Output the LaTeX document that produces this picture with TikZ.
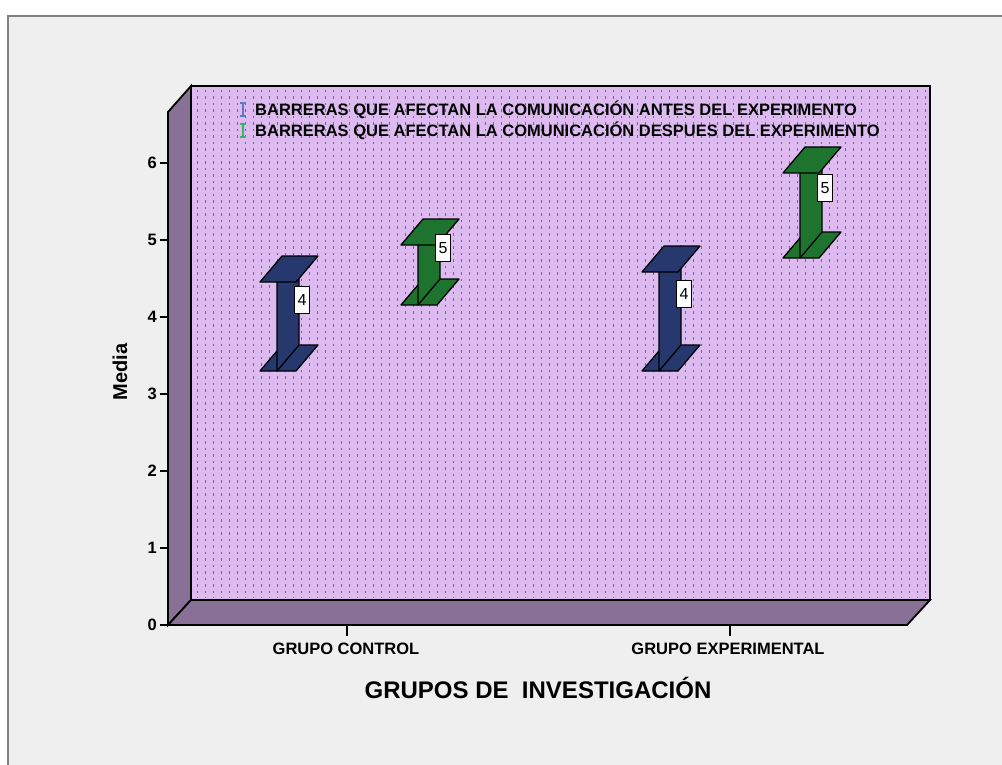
\documentclass[tikz,border=0pt]{standalone}
\usepackage{fontspec}
\setmainfont{Liberation Sans}
\definecolor{framebg}{RGB}{239,239,239}
\definecolor{framegray}{RGB}{128,128,128}
\definecolor{panelcol}{RGB}{221,186,240}
\definecolor{dotcol}{RGB}{118,100,130}
\definecolor{wallcol}{RGB}{136,112,150}
\definecolor{barblue}{RGB}{38,56,110}
\definecolor{bargreen}{RGB}{30,116,46}
\definecolor{keyblue}{RGB}{95,120,205}
\definecolor{keygreen}{RGB}{60,180,95}
\tikzset{
  wall/.style={fill=wallcol, draw=black, line width=1.8pt, line join=miter},
  beam/.style={fill=#1, draw=black, line width=1.3pt, line join=round},
  valbox/.style={draw=black, fill=white, line width=0.6pt, inner sep=1pt,
    minimum width=15pt, minimum height=27pt, font=\fontsize{16}{18}\selectfont},
  ticklab/.style={anchor=east, inner sep=1pt, font=\fontsize{16.5}{18}\selectfont\bfseries},
  catlab/.style={font=\fontsize{16.5}{18}\selectfont\bfseries},
  keylab/.style={anchor=west, inner sep=0pt, font=\fontsize{16.5}{18}\selectfont\bfseries},
}
\begin{document}
\begin{tikzpicture}[x=1pt, y=-1pt]
      \useasboundingbox (0,0) rectangle (1002,765);
      \fill[white] (0,0) rectangle (1002,765);
      \fill[framebg] (8,16) rectangle (1002,765);
      \draw[framegray, line width=2.5pt] (8,765) -- (8,16) -- (1002,16);
      % back panel with dotted columns
      \fill[panelcol] (191,86) rectangle (930,600);
      \foreach \x in {197,205,...,925}
        \draw[dotcol, line width=1pt, dash pattern=on 2.5pt off 4pt] (\x,90) -- (\x,598);
      \draw[black, line width=1.8pt] (191,600) -- (191,86) -- (930,86) -- (930,600);
      % side wall and floor
      \draw[wall] (168,112) -- (191,86) -- (191,600) -- (168,625) -- cycle;
      \draw[wall] (168,625) -- (191,600) -- (930,600) -- (907,625) -- cycle;
      % value axis
      \foreach \v in {0,...,6} {
        \draw[black, line width=1.5pt] (160,625-77*\v) -- (168,625-77*\v);
        \node[ticklab] (T\v) at (158,625-77*\v) {\v};
      }
      \node[rotate=90, font=\fontsize{20}{22}\selectfont\bfseries] (ylab) at (120,372) {Media};
      % error bars: centre / low / high / colour / label y / value / name
      \foreach \c/\lo/\hi/\col/\ly/\v/\n in {277/371/282/barblue/300/4/L1, 418/305/245/bargreen/248/5/L2,
                                             659/371/272/barblue/294/4/L3, 800/258/173/bargreen/188/5/L4} {
        \draw[beam=\col] (\c-17,\lo) -- (\c+19,\lo) -- (\c+41,\lo-26) -- (\c+5,\lo-26) -- cycle;
        \draw[beam=\col] (\c,\lo) -- (\c+22,\lo-26) -- (\c+22,\hi-26) -- (\c,\hi) -- cycle;
        \draw[beam=\col] (\c-17,\hi) -- (\c+19,\hi) -- (\c+41,\hi-26) -- (\c+5,\hi-26) -- cycle;
        \node[valbox] (\n) at (\c+25,\ly) {\v};
      }
      % legend
      \draw[keyblue, line width=1.2pt] (240,103) -- (246,103) (243,103) -- (243,116) (240,116) -- (246,116);
      \draw[keygreen, line width=1.2pt] (240,124) -- (246,124) (243,124) -- (243,137) (240,137) -- (246,137);
      \node[keylab] (K1) at (255,110) {BARRERAS QUE AFECTAN LA COMUNICACIÓN ANTES DEL EXPERIMENTO};
      \node[keylab] (K2) at (255,131) {BARRERAS QUE AFECTAN LA COMUNICACIÓN DESPUES DEL EXPERIMENTO};
      % categories
      \draw[black, line width=1.5pt] (347,625) -- (347,636);
      \draw[black, line width=1.5pt] (730,625) -- (730,636);
      \node[catlab] (C1) at (346,649) {GRUPO CONTROL};
      \node[catlab] (C2) at (728,649) {GRUPO EXPERIMENTAL};
      \node[font=\fontsize{24}{26}\selectfont\bfseries] (xlab) at (538,688) {GRUPOS DE \ INVESTIGACIÓN};
\end{tikzpicture}
\end{document}
